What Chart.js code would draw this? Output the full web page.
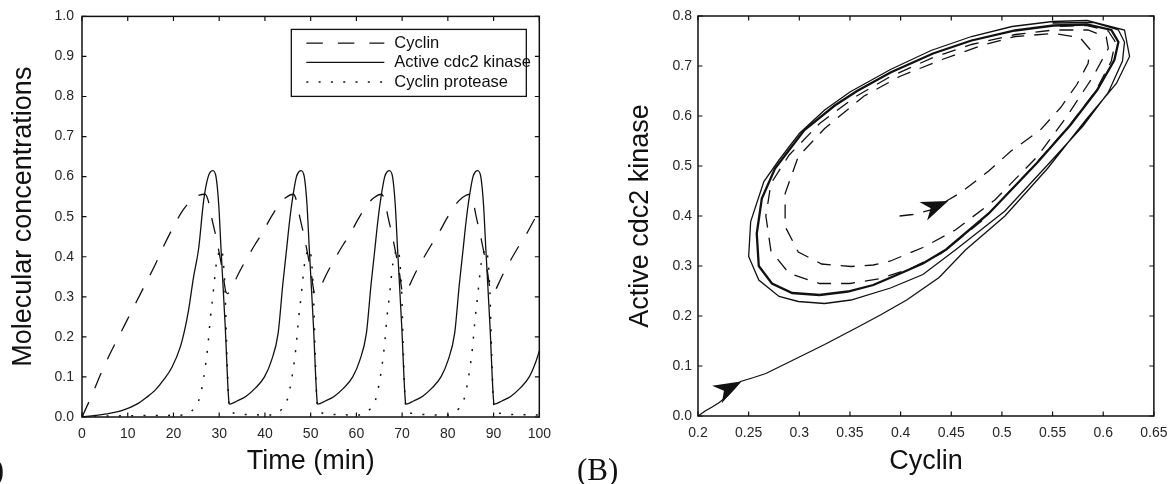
<!DOCTYPE html>
<html>
<head>
<meta charset="utf-8">
<script src="https://cdn.jsdelivr.net/npm/chart.js@4.4.0/dist/chart.umd.min.js"></script>
<style>
  html, body { margin: 0; padding: 0; background: #fff; }
  #wrap { position: relative; width: 1176px; height: 484px; overflow: hidden; }
  canvas { position: absolute; top: 0; }
  #left { left: 0; }
  #right { left: 560px; }
</style>
</head>
<body>
<div id="wrap">
  <canvas id="left" width="560" height="484"></canvas>
  <canvas id="right" width="616" height="484"></canvas>
</div>
<script>
// ---------- (A) time course ----------
const timeTicks = [0, 10, 20, 30, 40, 50, 60, 70, 80, 90, 100];
const concTicks = [0, 0.1, 0.2, 0.3, 0.4, 0.5, 0.6, 0.7, 0.8, 0.9, 1.0];

const cyclinT = [0, 2, 4, 6, 8, 10, 12, 14, 16, 18, 20, 22, 24, 25.5, 26.9,
  27.6, 28.3, 29.1, 30.0, 30.8, 31.4, 31.8, 32.4, 33.2, 34.1, 36.0, 37.8, 39.2, 41.4, 43.1, 44.6, 46.2,
  46.9, 47.6, 48.4, 49.3, 50.1, 50.7, 51.1, 51.7, 52.5, 53.4, 55.3, 57.1, 58.5, 60.7, 62.4, 63.9, 65.5,
  66.2, 66.9, 67.7, 68.6, 69.4, 70.0, 70.4, 71.0, 71.8, 72.7, 74.6, 76.4, 77.8, 80.0, 81.7, 83.2, 84.8,
  85.5, 86.2, 87.0, 87.9, 88.7, 89.3, 89.7, 90.3, 91.1, 92.0, 93.9, 95.7, 97.1, 99.3, 100];
const cyclinV = [0, 0.05, 0.105, 0.155, 0.2, 0.245, 0.29, 0.335, 0.38, 0.43, 0.475, 0.515, 0.542, 0.553, 0.556,
  0.54, 0.50, 0.46, 0.41, 0.36, 0.315, 0.308, 0.315, 0.333, 0.355, 0.395, 0.43, 0.455, 0.50, 0.53, 0.548, 0.556,
  0.54, 0.50, 0.46, 0.41, 0.36, 0.315, 0.308, 0.315, 0.333, 0.355, 0.395, 0.43, 0.455, 0.50, 0.53, 0.548, 0.556,
  0.54, 0.50, 0.46, 0.41, 0.36, 0.315, 0.308, 0.315, 0.333, 0.355, 0.395, 0.43, 0.455, 0.50, 0.53, 0.548, 0.556,
  0.54, 0.50, 0.46, 0.41, 0.36, 0.315, 0.308, 0.315, 0.333, 0.355, 0.395, 0.43, 0.455, 0.50, 0.51];

const kinaseT = [0, 3, 6, 9, 12, 14, 16, 18, 19.7, 21.5, 22.5, 23.3, 24.4, 25.5, 26.6, 27.6, 28.6, 29.3, 29.9, 30.4, 31.3, 32.15, 32.25,
  33.9, 35.9, 37.9, 39.9, 41.4, 42.9, 43.9, 44.7, 45.4, 46.1, 46.9, 47.5, 47.9, 48.6, 49.2, 49.7, 50.6, 51.45, 51.55,
  53.2, 55.2, 57.2, 59.2, 60.7, 62.2, 63.2, 64.0, 64.7, 65.4, 66.2, 66.8, 67.2, 67.9, 68.5, 69.0, 69.9, 70.75, 70.85,
  72.5, 74.5, 76.5, 78.5, 80.0, 81.5, 82.5, 83.3, 84.0, 84.7, 85.5, 86.1, 86.5, 87.2, 87.8, 88.3, 89.2, 90.05, 90.15,
  91.8, 93.8, 95.8, 97.8, 99.3, 100];
const kinaseV = [0, 0.004, 0.009, 0.017, 0.032, 0.048, 0.067, 0.095, 0.125, 0.175, 0.22, 0.267, 0.35, 0.42, 0.54, 0.60, 0.615, 0.60, 0.53, 0.42, 0.23, 0.035, 0.032,
  0.04, 0.052, 0.072, 0.10, 0.14, 0.21, 0.33, 0.415, 0.49, 0.55, 0.60, 0.613, 0.615, 0.60, 0.53, 0.42, 0.23, 0.035, 0.032,
  0.04, 0.052, 0.072, 0.10, 0.14, 0.21, 0.33, 0.415, 0.49, 0.55, 0.60, 0.613, 0.615, 0.60, 0.53, 0.42, 0.23, 0.035, 0.032,
  0.04, 0.052, 0.072, 0.10, 0.14, 0.21, 0.33, 0.415, 0.49, 0.55, 0.60, 0.613, 0.615, 0.60, 0.53, 0.42, 0.23, 0.035, 0.032,
  0.04, 0.052, 0.072, 0.10, 0.14, 0.165];

const proteaseT = [0, 10, 18, 22.1, 23.6, 24.6, 25.1, 25.9, 26.4, 26.9, 27.5, 28.1, 28.6, 29.0, 29.4, 29.9, 30.4, 30.8, 31.3, 31.7, 32.1, 32.6, 33.6, 36.6,
  41.4, 42.9, 43.9, 44.4, 45.2, 45.7, 46.2, 46.8, 47.4, 47.9, 48.3, 48.7, 49.2, 49.7, 50.1, 50.6, 51.0, 51.4, 51.9, 52.9, 55.9,
  60.7, 62.2, 63.2, 63.7, 64.5, 65.0, 65.5, 66.1, 66.7, 67.2, 67.6, 68.0, 68.5, 69.0, 69.4, 69.9, 70.3, 70.7, 71.2, 72.2, 75.2,
  80.0, 81.5, 82.5, 83.0, 83.8, 84.3, 84.8, 85.4, 86.0, 86.5, 86.9, 87.3, 87.8, 88.3, 88.7, 89.2, 89.6, 90.0, 90.5, 91.5, 94.5, 100];
const proteaseV = [0.002, 0.003, 0.004, 0.005, 0.012, 0.022, 0.03, 0.055, 0.085, 0.12, 0.175, 0.25, 0.30, 0.345, 0.385, 0.41, 0.42, 0.40, 0.31, 0.15, 0.035, 0.015, 0.009, 0.006,
  0.005, 0.012, 0.022, 0.03, 0.055, 0.085, 0.12, 0.175, 0.25, 0.30, 0.345, 0.385, 0.41, 0.42, 0.40, 0.31, 0.15, 0.035, 0.015, 0.009, 0.006,
  0.005, 0.012, 0.022, 0.03, 0.055, 0.085, 0.12, 0.175, 0.25, 0.30, 0.345, 0.385, 0.41, 0.42, 0.40, 0.31, 0.15, 0.035, 0.015, 0.009, 0.006,
  0.005, 0.012, 0.022, 0.03, 0.055, 0.085, 0.12, 0.175, 0.25, 0.30, 0.345, 0.385, 0.41, 0.42, 0.40, 0.31, 0.15, 0.035, 0.015, 0.009, 0.006, 0.005];

// ---------- (B) phase plane: cyclin vs active cdc2 kinase ----------
const cyclinAxisTicks = [0.2, 0.25, 0.3, 0.35, 0.4, 0.45, 0.5, 0.55, 0.6, 0.65];
const kinaseAxisTicks = [0, 0.1, 0.2, 0.3, 0.4, 0.5, 0.6, 0.7, 0.8];

// solid run from (0.2, 0)
const solidC = [0.200, 0.207, 0.214, 0.221, 0.229, 0.236, 0.242, 0.255, 0.267, 0.283, 0.299, 0.325, 0.357, 0.380, 0.406, 0.438, 0.464,
  0.503, 0.545, 0.584, 0.613, 0.626, 0.621, 0.584, 0.550, 0.510, 0.470, 0.430, 0.390, 0.350, 0.325, 0.300, 0.280, 0.265, 0.252,
  0.250, 0.260, 0.280, 0.299, 0.325, 0.351, 0.390, 0.422, 0.454, 0.503, 0.545, 0.580, 0.605, 0.619, 0.621, 0.615, 0.590, 0.550];
const solidM = [0.000, 0.010, 0.018, 0.027, 0.040, 0.055, 0.069, 0.077, 0.085, 0.101, 0.117, 0.143, 0.177, 0.202, 0.232, 0.277, 0.332,
  0.400, 0.495, 0.595, 0.665, 0.719, 0.772, 0.791, 0.789, 0.779, 0.759, 0.731, 0.693, 0.648, 0.612, 0.565, 0.512, 0.469, 0.389,
  0.319, 0.272, 0.239, 0.229, 0.225, 0.232, 0.256, 0.283, 0.332, 0.410, 0.502, 0.580, 0.647, 0.710, 0.748, 0.772, 0.787, 0.786];

// limit cycle both runs settle on
const cycleC = [0.320, 0.348, 0.373, 0.395, 0.422, 0.445, 0.487, 0.535, 0.568, 0.594, 0.611, 0.615, 0.608, 0.584, 0.551,
  0.513, 0.470, 0.432, 0.390, 0.357, 0.335, 0.305, 0.276, 0.263, 0.258, 0.260, 0.273, 0.293, 0.320];
const cycleM = [0.242, 0.249, 0.262, 0.281, 0.305, 0.333, 0.405, 0.507, 0.583, 0.652, 0.712, 0.748, 0.772, 0.783, 0.781,
  0.771, 0.751, 0.725, 0.687, 0.650, 0.621, 0.572, 0.495, 0.435, 0.365, 0.300, 0.265, 0.246, 0.242];

// dashed run from (0.4, 0.4)
const dashC = [0.399, 0.412, 0.430, 0.458, 0.487, 0.509, 0.538, 0.558, 0.574, 0.585, 0.587, 0.577, 0.551, 0.513, 0.480, 0.441,
  0.399, 0.364, 0.325, 0.299, 0.286, 0.286, 0.299, 0.322, 0.351, 0.373, 0.390, 0.422, 0.454, 0.493, 0.535, 0.564, 0.590, 0.605,
  0.603, 0.585, 0.551, 0.513, 0.470, 0.432, 0.390, 0.355, 0.320, 0.290, 0.272, 0.267, 0.272, 0.290, 0.320, 0.350, 0.380, 0.410,
  0.440, 0.480, 0.530, 0.565, 0.592, 0.608, 0.612, 0.605, 0.584, 0.551];
const dashM = [0.400, 0.403, 0.412, 0.445, 0.490, 0.530, 0.572, 0.617, 0.663, 0.705, 0.733, 0.757, 0.765, 0.759, 0.741, 0.713,
  0.679, 0.640, 0.575, 0.519, 0.445, 0.379, 0.328, 0.304, 0.299, 0.302, 0.310, 0.337, 0.372, 0.432, 0.519, 0.599, 0.679, 0.735,
  0.758, 0.772, 0.772, 0.763, 0.743, 0.717, 0.679, 0.638, 0.585, 0.522, 0.465, 0.400, 0.330, 0.285, 0.265, 0.265, 0.275, 0.295,
  0.325, 0.390, 0.497, 0.577, 0.648, 0.710, 0.748, 0.770, 0.781, 0.779];

// arrowheads: tip and a point behind it, in data units
const arrowTipC = [0.242, 0.447];
const arrowTipM = [0.069, 0.430];
const arrowBackC = [0.218, 0.423];
const arrowBackM = [0.042, 0.410];

const INK = '#111';
const SANS = "'Liberation Sans', Arial, Helvetica, sans-serif";

function pts(xs, ys) { return xs.map((v, i) => ({ x: v, y: ys[i] })); }

// box with inward ticks on all four sides, plus the panel letter
const frame = {
  id: 'frame',
  afterDatasetsDraw(chart, args, opts) {
    const { ctx, chartArea: a, scales: { x, y } } = chart;
    ctx.save();
    ctx.strokeStyle = INK;
    ctx.lineWidth = 1.5;
    ctx.strokeRect(a.left, a.top, a.right - a.left, a.bottom - a.top);
    ctx.lineWidth = 1.2;
    ctx.beginPath();
    const tl = 4.5;
    x.ticks.forEach(t => {
      const p = x.getPixelForValue(t.value);
      ctx.moveTo(p, a.bottom); ctx.lineTo(p, a.bottom - tl);
      ctx.moveTo(p, a.top); ctx.lineTo(p, a.top + tl);
    });
    y.ticks.forEach(t => {
      const p = y.getPixelForValue(t.value);
      ctx.moveTo(a.left, p); ctx.lineTo(a.left + tl, p);
      ctx.moveTo(a.right, p); ctx.lineTo(a.right - tl, p);
    });
    ctx.stroke();
    if (opts.letter) {
      ctx.fillStyle = INK;
      ctx.font = "31px 'Liberation Serif', 'DejaVu Serif', serif";
      ctx.textAlign = opts.letterAlign;
      ctx.textBaseline = 'alphabetic';
      ctx.fillText(opts.letter, opts.letterX, 480);
    }
    ctx.restore();
  }
};

// legend box inside panel A
const legendBox = {
  id: 'legendBox',
  afterDatasetsDraw(chart) {
    const { ctx, chartArea: a } = chart;
    const bx = a.right - 248, by = a.top + 13, bw = 235, bh = 67;
    ctx.save();
    ctx.fillStyle = '#fff';
    ctx.fillRect(bx, by, bw, bh);
    ctx.strokeStyle = INK;
    ctx.lineWidth = 1.3;
    ctx.strokeRect(bx, by, bw, bh);
    const rows = [by + 13.7, by + 33, by + 52.7];
    chart.data.datasets.forEach((ds, i) => {
      ctx.beginPath();
      ctx.setLineDash(ds.borderDash || []);
      ctx.lineWidth = ds.borderWidth;
      ctx.moveTo(bx + 15, rows[i]);
      ctx.lineTo(bx + 93, rows[i]);
      ctx.stroke();
      ctx.setLineDash([]);
      ctx.fillStyle = INK;
      ctx.font = '16.5px ' + SANS;
      ctx.textBaseline = 'middle';
      ctx.fillText(ds.label, bx + 103, rows[i] + 0.5);
    });
    ctx.restore();
  }
};

const arrowHeads = {
  id: 'arrowHeads',
  afterDatasetsDraw(chart) {
    const { ctx, scales: { x, y } } = chart;
    ctx.save();
    ctx.fillStyle = INK;
    arrowTipC.forEach((c, i) => {
      const tx = x.getPixelForValue(c), ty = y.getPixelForValue(arrowTipM[i]);
      const bx = x.getPixelForValue(arrowBackC[i]), by = y.getPixelForValue(arrowBackM[i]);
      ctx.save();
      ctx.translate(tx, ty);
      ctx.rotate(Math.atan2(ty - by, tx - bx));
      ctx.beginPath();
      ctx.moveTo(0, 0);
      ctx.lineTo(-27, -10);
      ctx.lineTo(-19, 0);
      ctx.lineTo(-27, 10);
      ctx.closePath();
      ctx.fill();
      ctx.restore();
    });
    ctx.restore();
  }
};

function axis(min, max, ticksArr, fmt, width, height, pad, title, titlePad) {
  const o = {
    type: 'linear', min: min, max: max,
    grid: { display: false, drawTicks: false },
    border: { display: false },
    afterBuildTicks: s => { s.ticks = ticksArr.map(v => ({ value: v })); },
    ticks: { callback: fmt, padding: pad, color: '#262626', font: { family: SANS, size: 14 } },
    title: { display: true, text: title, color: INK, padding: titlePad, font: { family: SANS, size: 27 } }
  };
  if (width) o.afterFit = s => { s.width = width; };
  if (height) o.afterFit = s => { s.height = height; };
  return o;
}

const line = (extra) => Object.assign({ showLine: true, pointRadius: 0, borderColor: INK, borderWidth: 1.3, fill: false }, extra);

new Chart(document.getElementById('left'), {
  type: 'scatter',
  data: {
    datasets: [
      line({ label: 'Cyclin', data: pts(cyclinT, cyclinV), borderDash: [16.5, 15], cubicInterpolationMode: 'monotone' }),
      line({ label: 'Active cdc2 kinase', data: pts(kinaseT, kinaseV), cubicInterpolationMode: 'monotone' }),
      line({ label: 'Cyclin protease', data: pts(proteaseT, proteaseV), borderDash: [2, 10.3], borderWidth: 1.5, cubicInterpolationMode: 'monotone' })
    ]
  },
  options: {
    responsive: false, animation: false,
    layout: { padding: { top: 16, right: 15, left: 0, bottom: 0 } },
    scales: {
      x: axis(0, 100, timeTicks, v => String(v), null, 67, 9, 'Time (min)', { bottom: 6 }),
      y: axis(0, 1, concTicks, v => v.toFixed(1), 82, null, 8, 'Molecular concentrations', { top: 7 })
    },
    plugins: {
      legend: { display: false }, tooltip: { enabled: false },
      frame: { letter: '(A)', letterX: 4, letterAlign: 'right' }
    }
  },
  plugins: [frame, legendBox]
});

new Chart(document.getElementById('right'), {
  type: 'scatter',
  data: {
    datasets: [
      line({ label: 'Limit cycle', data: pts(cycleC, cycleM), borderWidth: 2.3 }),
      line({ label: 'From (0.2, 0)', data: pts(solidC, solidM) }),
      line({ label: 'From (0.4, 0.4)', data: pts(dashC, dashM), borderDash: [14, 10] })
    ]
  },
  options: {
    responsive: false, animation: false,
    layout: { padding: { top: 16, right: 15, left: 0, bottom: 0 } },
    scales: {
      x: axis(0.2, 0.65, cyclinAxisTicks, v => String(+v.toFixed(2)), null, 68, 8.5, 'Cyclin', { bottom: 6 }),
      y: axis(0, 0.8, kinaseAxisTicks, v => v.toFixed(1), 138, null, 6, 'Active cdc2 kinase', { top: 64 })
    },
    plugins: {
      legend: { display: false }, tooltip: { enabled: false },
      frame: { letter: '(B)', letterX: 17, letterAlign: 'left' }
    }
  },
  plugins: [frame, arrowHeads]
});
</script>
</body>
</html>
